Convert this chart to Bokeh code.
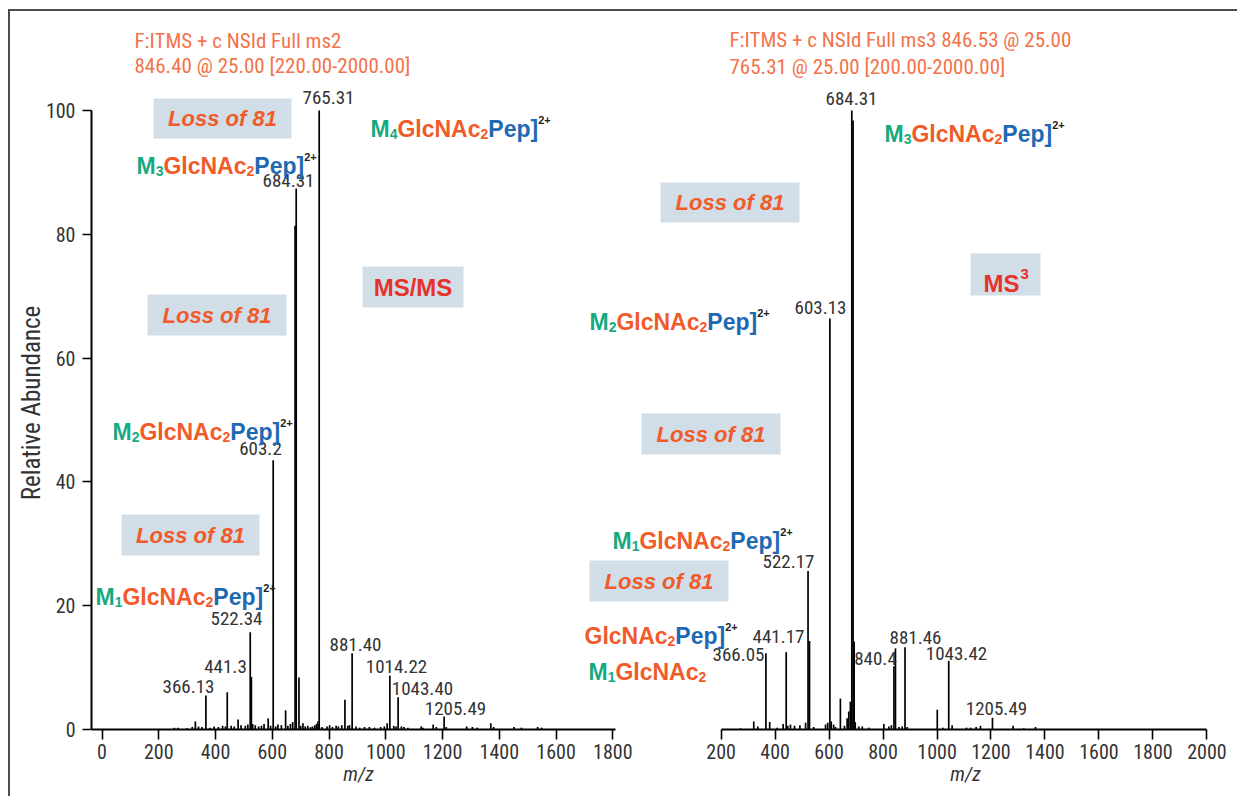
from bokeh.plotting import figure
from bokeh.models import Range1d, LinearAxis, FixedTicker, ColumnDataSource
from bokeh.core.properties import value
from bokeh.embed import file_html
from bokeh.resources import INLINE

# ---------------- data ----------------
ms2_mz = [255, 268, 300, 318, 329, 340, 352, 366.13, 380, 395, 410, 425, 435, 441.3, 455, 466,
          479.6, 490, 505, 514, 522.34, 526.3, 531, 540, 552, 562, 571, 585.6, 594, 603.2, 612,
          620, 632, 647, 655, 664, 672, 680.3, 684.31, 694, 700, 708, 716, 725, 735, 742, 750,
          756, 761, 765.31, 775, 793, 802, 812, 825, 833, 845, 856, 866, 872, 881.40, 895, 908,
          925, 942, 960, 982, 995, 1005, 1014.22, 1028, 1036, 1043.40, 1055, 1064, 1078, 1125,
          1131, 1167, 1178, 1205.49, 1213, 1285, 1305, 1322, 1370, 1380, 1452, 1478, 1535, 1549]
ms2_int = [0.3, 0.3, 0.2, 0.4, 1.3, 0.5, 0.4, 5.5, 0.3, 0.5, 0.4, 0.6, 0.5, 6.0, 0.6, 0.5,
           1.6, 0.7, 0.6, 0.8, 15.7, 8.5, 0.9, 0.7, 0.5, 0.6, 0.9, 1.8, 0.6, 43.5, 0.5,
           0.8, 0.7, 3.1, 0.6, 0.9, 1.2, 81.4, 87.4, 8.4, 0.6, 1.0, 0.5, 0.6, 0.4, 0.5, 0.7,
           0.9, 1.3, 100.0, 0.4, 0.5, 0.7, 0.4, 0.6, 0.5, 0.7, 4.8, 0.6, 0.7, 12.3, 0.5, 0.3,
           0.4, 0.4, 0.3, 0.4, 0.5, 1.0, 8.7, 0.6, 0.5, 5.2, 0.5, 0.4, 0.3, 0.5,
           0.3, 0.8, 0.4, 2.1, 0.4, 0.5, 0.4, 0.3, 1.0, 0.4, 0.4, 0.3, 0.4, 0.3]

ms3_mz = [272, 321, 336, 366.05, 380, 408, 430, 441.17, 447, 457, 472, 492, 513, 522.17, 527.5,
          543, 587, 595, 603.13, 608, 617, 624, 642, 657, 667, 673, 679, 684.31, 689, 693, 697,
          710, 723, 747, 803, 821.5, 831, 840.4, 846, 859, 871, 881.46, 889.6, 1001, 1021.5,
          1043.42, 1056, 1109, 1124, 1145, 1161, 1205.49, 1282, 1321.6, 1365]
ms3_int = [0.2, 1.3, 0.5, 12.3, 1.2, 0.3, 0.9, 12.5, 0.6, 0.8, 0.6, 0.7, 1.1, 25.6, 14.3,
           0.4, 0.8, 1.1, 66.4, 1.3, 0.8, 0.4, 5.0, 0.6, 1.8, 2.9, 4.5, 100.0, 98.4, 14.2, 1.2,
           0.5, 0.5, 0.3, 0.9, 0.5, 0.7, 10.2, 13.1, 0.4, 0.5, 13.3, 0.4, 3.2, 0.3,
           11.1, 0.7, 0.3, 0.3, 0.4, 0.6, 1.9, 0.6, 0.2, 0.4]

ms2_labels = ["366.13", "441.3", "522.34", "603.2", "684.31", "765.31", "881.40", "1014.22",
              "1043.40", "1205.49"]
ms3_labels = ["366.05", "441.17", "522.17", "603.13", "684.31", "840.4", "881.46", "1043.42",
              "1205.49"]

ms2_title = ["F:ITMS + c NSId Full ms2", "846.40 @ 25.00 [220.00-2000.00]"]
ms3_title = ["F:ITMS + c NSId Full ms3 846.53 @ 25.00", "765.31 @ 25.00 [200.00-2000.00]"]

ms2_xticks = [0, 200, 400, 600, 800, 1000, 1200, 1400, 1600, 1800]
ms3_xticks = [200, 400, 600, 800, 1000, 1200, 1400, 1600, 1800, 2000]
y_ticks = [0, 20, 40, 60, 80, 100]

# ---------------- layout (page pixels) ----------------
W, H = 1237, 796
FL, FR, FT, FB = 91, 1237, 15, 790
Y0, YS = 729.0, 6.19
L0, LS = 101.5, 0.2838
R0, RS = 720.6, 0.26989


def ly(py):
    return (Y0 - py) / YS


def lx(px):
    return (px - L0) / LS


def rx(px):
    return 200 + (px - R0) / RS


NARROW = "Roboto Condensed, Roboto, sans-serif"
SANS = "Liberation Sans"
GREEN, ORANGE, BLUE, INK = "#17a97f", "#f15a29", "#1f69b3", "#231f20"
TITLE_C = "#f3734a"
BOX_C = "#d1dde7"
RED = "#e6332a"

p = figure(width=W, height=H, output_backend="svg", toolbar_location=None,
           x_range=Range1d(lx(FL), lx(FR)), y_range=Range1d(ly(FB), ly(FT)),
           min_border_left=FL, min_border_right=W - FR, min_border_top=FT,
           min_border_bottom=H - FB)
p.extra_x_ranges = {"r": Range1d(rx(FL), rx(FR))}
p.xgrid.visible = False
p.ygrid.visible = False
p.outline_line_color = None
p.border_fill_color = None
p.background_fill_color = None
p.styles = {"background": "linear-gradient(#4d4d4d,#4d4d4d) 8px 9px / 2px 100% no-repeat, "
                          "linear-gradient(#4d4d4d,#4d4d4d) 8px 9px / 100% 2px no-repeat, white"}


def style_axis(ax):
    ax.axis_line_color = "black"
    ax.axis_line_width = 2
    ax.major_tick_line_color = "black"
    ax.major_tick_line_width = 1.6
    ax.major_tick_in = 0
    ax.minor_tick_in = 0
    ax.minor_tick_out = 0
    ax.major_label_text_font = NARROW
    ax.major_label_text_font_size = "20px"
    ax.major_label_text_color = "#333333"


xl = p.xaxis[0]
xl.ticker = FixedTicker(ticks=ms2_xticks)
xl.bounds = (lx(FL), 1809)
xl.fixed_location = 0
style_axis(xl)
xl.major_tick_out = 10
xl.major_label_standoff = 4

xr = LinearAxis(x_range_name="r", ticker=FixedTicker(ticks=ms3_xticks), bounds=(200, 2000),
                fixed_location=0)
style_axis(xr)
xr.major_tick_out = 10
xr.major_label_standoff = 4
p.add_layout(xr, "below")

ya = p.yaxis[0]
ya.ticker = FixedTicker(ticks=y_ticks)
ya.bounds = (0, 100)
style_axis(ya)
ya.major_tick_out = 9
ya.major_label_standoff = 7
ya.axis_label = "Relative Abundance"
ya.axis_label_text_font = NARROW
ya.axis_label_text_font_size = "25px"
ya.axis_label_text_font_style = "normal"
ya.axis_label_text_color = "#333333"
ya.axis_label_standoff = -3

# ---------------- annotation boxes ----------------
boxes = [(222, 118, 138, 40), (216.5, 314.5, 139, 41), (190, 534.5, 138, 41),
         (412.5, 286.5, 101, 41), (729.5, 202, 139, 40), (710.5, 433.5, 139, 41),
         (658.5, 580.5, 139, 41), (1005, 274, 70, 42)]
p.rect(x=[lx(b[0]) for b in boxes], y=[ly(b[1]) for b in boxes],
       width=[b[2] for b in boxes], height=[b[3] for b in boxes],
       width_units="screen", height_units="screen", fill_color=BOX_C, line_color=None)

loss_pos = [boxes[i] for i in (0, 1, 2, 4, 5, 6)]
p.text(x=[lx(b[0]) for b in loss_pos], y=[ly(b[1]) for b in loss_pos],
       text=["Loss of 81"] * len(loss_pos), text_font=value(SANS), text_font_style="bold italic",
       text_font_size="22px", text_color=ORANGE, text_align="center", text_baseline="middle")

p.text(x=[lx(412.5)], y=[ly(287)], text=["MS/MS"], text_font=value(SANS),
       text_font_style="bold", text_font_size="24px", text_color=RED,
       text_align="center", text_baseline="middle")
p.text(x=[lx(983), lx(983)], y=[ly(283), ly(283)], text=["MS", "3"], x_offset=[0, 37],
       y_offset=[0, -10], text_font=value(SANS), text_font_style="bold",
       text_font_size=["24px", "15px"], text_color=RED, text_align="left",
       text_baseline="alphabetic")

# ---------------- peaks ----------------
src2 = ColumnDataSource(dict(x=ms2_mz, top=ms2_int, base=[0] * len(ms2_mz)))
src3 = ColumnDataSource(dict(x=ms3_mz, top=ms3_int, base=[0] * len(ms3_mz)))
p.segment(x0="x", y0="base", x1="x", y1="top", source=src2, line_color="black", line_width=1.7)
p.segment(x0="x", y0="base", x1="x", y1="top", source=src3, line_color="black", line_width=1.7,
          x_range_name="r")

# ---------------- peak labels ----------------
ms2_label_pos = [(188, 686), (225, 666), (236, 618), (260, 448), (288, 180), (328, 97),
                 (355, 644), (396, 666), (422, 688), (455, 708)]
ms3_label_pos = [(738, 654), (778, 636), (788, 561), (820, 307), (851, 98), (875, 658),
                 (915, 637), (956, 653), (996, 708)]
lab_txt = ms2_labels + ms3_labels
lab_pos = ms2_label_pos + ms3_label_pos
p.text(x=[lx(a) for a, b in lab_pos], y=[ly(b) for a, b in lab_pos], text=lab_txt,
       text_font=value(NARROW), text_font_size="19px", text_color="#333333",
       text_align="center", text_baseline="middle")

# titles
p.text(x=[lx(134)] * 2 + [lx(729)] * 2, y=[ly(40), ly(65), ly(39), ly(66)],
       text=ms2_title + ms3_title, text_font=value(NARROW), text_font_size="21px",
       text_color=TITLE_C, text_align="left", text_baseline="middle")

# m/z axis titles
p.text(x=[lx(358), lx(965)], y=[ly(773), ly(773)], text=["m/z", "m/z"], text_font=value(NARROW),
       text_font_style="italic", text_font_size="20px", text_color="#333333",
       text_align="center", text_baseline="middle")

# ---------------- glycan formula labels ----------------
AW = {"M": 0.833, "G": 0.778, "l": 0.278, "c": 0.556, "N": 0.722, "A": 0.722, "P": 0.667,
      "e": 0.556, "p": 0.611, "]": 0.333, "+": 0.584}
F_MAIN, F_SUB, F_SUP = 23, 14, 11


def tw(s, fs):
    return sum(AW.get(ch, 0.556) for ch in s) * fs


fx, fy, ft, fxo, fyo, fc, fs = [], [], [], [], [], [], []


def formula(left_px, cy_px, n=None, pep=True):
    pieces = []
    if n is not None:
        pieces += [("M", GREEN, F_MAIN, 0), (str(n), GREEN, F_SUB, 4.5)]
    pieces += [("GlcNAc", ORANGE, F_MAIN, 0), ("2", ORANGE, F_SUB, 4.5)]
    if pep:
        pieces += [("Pep]", BLUE, F_MAIN, 0), ("2+", INK, F_SUP, -9)]
    off = 0.0
    for t, c, size, dy in pieces:
        fx.append(lx(left_px))
        fy.append(ly(cy_px + 8.5))
        ft.append(t)
        fxo.append(off)
        fyo.append(dy)
        fc.append(c)
        fs.append(f"{size}px")
        off += tw(t, size)


formula(370, 120, 4)
formula(136, 157, 3)
formula(112, 423, 2)
formula(95, 588, 1)
formula(884, 125, 3)
formula(589, 313, 2)
formula(612, 532, 1)
formula(584, 627, None)
formula(588, 663, 1, pep=False)

fsrc = ColumnDataSource(dict(x=fx, y=fy, text=ft, xo=fxo, yo=fyo, color=fc, size=fs))
p.text(x="x", y="y", text="text", x_offset="xo", y_offset="yo", text_color="color",
       text_font_size="size", source=fsrc, text_font=value(SANS), text_font_style="bold",
       text_align="left", text_baseline="alphabetic")

open("out.html", "w").write(file_html(p, INLINE))
